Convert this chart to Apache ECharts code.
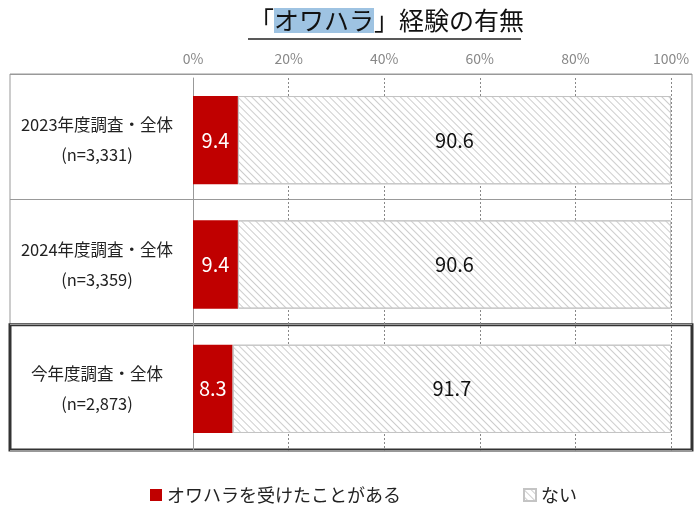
<!DOCTYPE html>
<html>
<head>
<meta charset="utf-8">
<script src="https://cdn.jsdelivr.net/npm/echarts@6/dist/echarts.min.js"></script>
<style>
  html, body { margin: 0; padding: 0; background: #fff; }
  #chart { width: 700px; height: 515px; }
</style>
</head>
<body>
<div id="chart"></div>
<script>
// 調査ごとのカテゴリと割合(%)
const categories = ['2023年度調査・全体\n(n=3,331)', '2024年度調査・全体\n(n=3,359)', '今年度調査・全体\n(n=2,873)'];
const experienced = [9.4, 9.4, 8.3];
const notExperienced = [90.6, 90.6, 91.7];
const seriesNames = ['オワハラを受けたことがある', 'ない'];

const FONT = '"Noto Sans CJK JP", "Noto Sans", sans-serif';

const chart = echarts.init(document.getElementById('chart'));

// frame = outer table box, rows split by category
const frameTop = 74, frameBottom = 65;
const rowH = (515 - frameTop - frameBottom) / categories.length;

chart.setOption({
  animation: false,
  textStyle: { fontFamily: FONT },
  title: {
    text: '「{hl|オワハラ}」経験の有無',
    left: 244,
    top: 3,
    textStyle: {
      fontSize: 25,
      fontWeight: 'normal',
      color: '#111',
      fontFamily: FONT,
      rich: {
        hl: { fontSize: 25, color: '#111', backgroundColor: '#9EC3E2', fontFamily: FONT }
      }
    }
  },
  graphic: [{
    type: 'line',
    shape: { x1: 248, y1: 39, x2: 521, y2: 39 },
    style: { stroke: '#222', lineWidth: 1.5 }
  }],
  legend: {
    bottom: 6,
    left: 145,
    itemGap: 122,
    itemWidth: 12,
    itemHeight: 12,
    icon: 'rect',
    textStyle: { fontSize: 18, color: '#222', fontFamily: FONT },
    data: seriesNames
  },
  grid: [
    { left: 193, right: 29, top: 78, bottom: 64 },
    { left: 10, right: 8, top: frameTop, bottom: frameBottom, show: true, borderColor: '#999', borderWidth: 1 },
    { left: 10, right: 8, top: frameTop + rowH * 2, bottom: frameBottom, show: true, borderColor: '#333', borderWidth: 3 }
  ],
  xAxis: [
    {
      type: 'value', gridIndex: 0, position: 'top',
      min: 0, max: 100, interval: 20,
      axisLine: { show: false },
      axisTick: { show: false },
      axisLabel: { formatter: '{value}%', color: '#888', fontSize: 14, margin: 12, fontFamily: FONT },
      splitLine: { show: true, lineStyle: { color: '#888', type: [2, 2], width: 1 } }
    },
    { type: 'value', gridIndex: 1, show: false },
    { type: 'value', gridIndex: 2, show: false }
  ],
  yAxis: [
    {
      type: 'category', gridIndex: 0, inverse: true,
      data: categories,
      axisLine: { show: true, lineStyle: { color: '#999', width: 1 } },
      axisTick: { show: false },
      axisLabel: { align: 'center', margin: 96, fontSize: 16.5, lineHeight: 30, color: '#222', fontFamily: FONT }
    },
    {
      type: 'category', gridIndex: 1, inverse: true,
      data: categories,
      axisLine: { show: false }, axisTick: { show: false }, axisLabel: { show: false },
      splitLine: { show: true, lineStyle: { color: '#999', width: 1 } }
    },
    {
      type: 'category', gridIndex: 2, data: ['x'], show: false
    }
  ],
  series: [
    {
      name: seriesNames[0],
      type: 'bar', stack: 'all', xAxisIndex: 0, yAxisIndex: 0,
      barCategoryGap: '29%',
      data: experienced,
      itemStyle: { color: '#C00000' },
      label: { show: true, position: 'inside', color: '#fff', fontSize: 20, fontFamily: FONT },
      z: 3
    },
    {
      name: seriesNames[1],
      type: 'bar', stack: 'all', xAxisIndex: 0, yAxisIndex: 0,
      barCategoryGap: '29%',
      data: notExperienced,
      itemStyle: {
        color: '#fff',
        borderColor: '#c4c4c4',
        borderWidth: 1,
        decal: {
          symbol: 'rect',
          symbolSize: 1,
          color: '#cdcdcd',
          dashArrayX: [1, 0],
          dashArrayY: [1, 4],
          rotation: Math.PI / 4
        }
      },
      label: { show: true, position: 'inside', color: '#111', fontSize: 20, fontFamily: FONT },
      z: 3
    }
  ]
});
</script>
</body>
</html>
